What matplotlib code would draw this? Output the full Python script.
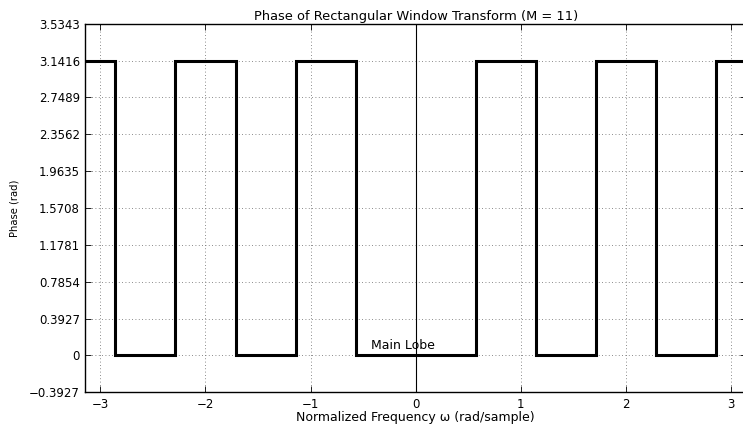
import numpy as np
import matplotlib
matplotlib.use("Agg")
import matplotlib.pyplot as plt

# Segment edges (rad/sample) and phase in each segment (rad)
edges = [-3.1416, -2.856, -2.285, -1.714, -1.142, -0.571, 0.571, 1.142, 1.714, 2.285, 2.856, 3.1416]
phase = [3.1416, 0, 3.1416, 0, 3.1416, 0, 3.1416, 0, 3.1416, 0, 3.1416]
yticks = [-0.3927, 0, 0.3927, 0.7854, 1.1781, 1.5708, 1.9635, 2.3562, 2.7489, 3.1416, 3.5343]
ytick_labels = ["\u22120.3927", "0", "0.3927", "0.7854", "1.1781", "1.5708", "1.9635", "2.3562", "2.7489", "3.1416", "3.5343"]
xticks = [-3, -2, -1, 0, 1, 2, 3]
xtick_labels = ["\u22123", "\u22122", "\u22121", "0", "1", "2", "3"]

plt.rcParams['font.family'] = ['DejaVu Sans']

fig = plt.figure(figsize=(7.43, 4.25), dpi=100)
ax = fig.add_axes([0.1150, 0.077, 0.889, 0.867])

x = np.array(edges)
y = np.array(phase + [phase[-1]])
ax.step(x, y, where='post', color='black', linewidth=2.2, solid_joinstyle='miter')

ax.axvline(0, color='black', linewidth=0.8)

ax.set_xlim(-3.1416, 3.1416)
ax.set_ylim(-0.3927, 3.5343)
ax.set_yticks(yticks)
ax.set_yticklabels(ytick_labels)
ax.set_xticks(xticks)
ax.set_xticklabels(xtick_labels)
ax.tick_params(direction='in', length=4, width=0.6, labelsize=8.5, top=True, right=True, pad=4)
ax.grid(True, linestyle=(0, (1, 3)), color='#666666', linewidth=0.6)
for s in ax.spines.values():
    s.set_linewidth(1.0)

ax.text(-0.43, 0.04, "Main Lobe", fontsize=9, ha='left', va='bottom')
ax.set_title("Phase of Rectangular Window Transform (M = 11)", fontsize=9.4, pad=3)
ax.set_xlabel("Normalized Frequency \u03c9 (rad/sample)", fontsize=9, labelpad=0)
ax.set_ylabel("Phase (rad)", fontsize=7.2, labelpad=7)

fig.savefig("out.png", dpi=100)
